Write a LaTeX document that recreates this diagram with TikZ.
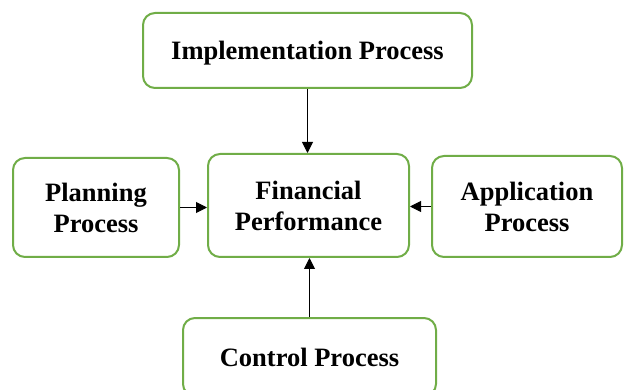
\documentclass[tikz,border=0pt]{standalone}
\usepackage{fontspec}
\setmainfont{Liberation Serif}
\usetikzlibrary{arrows.meta}
\definecolor{boxgreen}{HTML}{70AD47}
\begin{document}
\begin{tikzpicture}[x=1pt,y=-1pt,
  procbox/.style={draw=boxgreen, line width=2pt, rounded corners=12pt, fill=white,
    align=center, inner sep=2pt, font=\fontsize{26.5}{31}\selectfont\bfseries},
  arr/.style={line width=1pt, -{Triangle[length=11pt,width=11pt]}}]
  \useasboundingbox (0,0) rectangle (624,390);
  \begin{scope}
    \clip (0,0) rectangle (624,390);
    \node[procbox, minimum width=329pt, minimum height=75pt, text height=24pt, text depth=6pt] (impl) at (307.5,50.5) {Implementation Process};
    \node[procbox, minimum width=166pt, minimum height=99pt] (plan) at (96,207.5) {Planning\\Process};
    \node[procbox, minimum width=201pt, minimum height=103pt] (fin) at (308.5,205.5) {Financial\\Performance};
    \node[procbox, minimum width=190pt, minimum height=101pt] (app) at (527,206.5) {Application\\Process};
    \node[procbox, minimum width=253pt, minimum height=78pt] (ctrl) at (309.5,357) {Control Process};
    \draw[arr] (impl.south -| fin.north) ++(-1,0) coordinate (a1) -- (a1 |- fin.north);
    \draw[arr] (plan.east) -- (plan.east -| fin.west);
    \draw[arr] (app.west) -- (app.west -| fin.east);
    \draw[arr] (ctrl.north) -- (ctrl.north |- fin.south);
  \end{scope}
\end{tikzpicture}
\end{document}
